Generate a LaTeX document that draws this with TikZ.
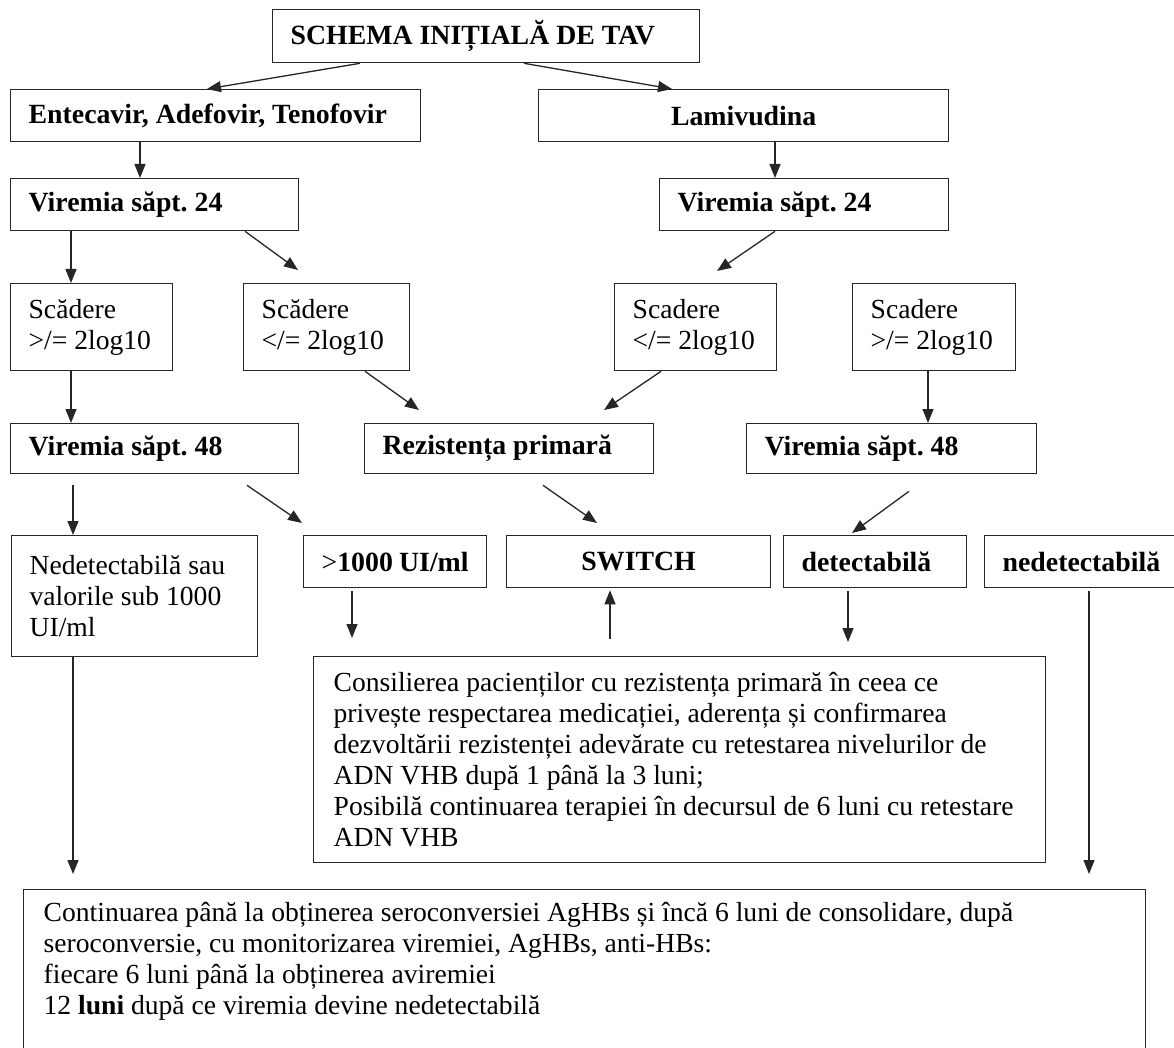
\documentclass[tikz,border=0pt]{standalone}
\usepackage{fontspec}
\setmainfont{Liberation Serif}
\usetikzlibrary{arrows.meta,calc}
\frenchspacing
\tikzset{
  box/.style={draw=black!85, line width=1.3pt, rectangle, inner xsep=18pt, inner ysep=0pt,
    anchor=north west, align=flush left, font=\fontsize{27.6}{31}\selectfont},
  bbox/.style={box, font=\fontsize{27.8}{31}\selectfont\bfseries},
  arr/.style={-{Triangle[length=14pt,width=11pt]}, line width=1.3pt, draw=black!85}
}
\begin{document}
\begin{tikzpicture}[x=1pt,y=-1pt]
\useasboundingbox (0,0) rectangle (1174,1048);
% row 0
\node[bbox, text width=391pt, minimum height=53pt] (top) at (272,9) {SCHEMA INIȚIALĂ DE TAV};
% row 1
\node[bbox, text width=374pt, minimum height=52pt] (ent) at (10,89) {Entecavir, Adefovir, Tenofovir};
\node[bbox, align=center, text width=374pt, minimum height=52pt] (lam) at (538,89) {Lamivudina};
% row 2
\node[bbox, text width=252pt, minimum height=52pt] (v24l) at (10,178) {Viremia săpt. 24};
\node[bbox, text width=253pt, minimum height=52pt] (v24r) at (659,178) {Viremia săpt. 24};
% row 3
\node[box, text width=126pt, minimum height=87pt] (sc1) at (10,283) {Scădere\\>/= 2log10};
\node[box, text width=130pt, minimum height=87pt] (sc2) at (243,283) {Scădere\\</= 2log10};
\node[box, text width=126pt, minimum height=87pt] (sc3) at (614,283) {Scadere\\</= 2log10};
\node[box, text width=127pt, minimum height=87pt] (sc4) at (852,283) {Scadere\\>/= 2log10};
% row 4
\node[bbox, text width=252pt, minimum height=50pt] (v48l) at (10,423) {Viremia săpt. 48};
\node[bbox, text width=253pt, minimum height=50pt] (rez) at (364,423) {Rezistența primară};
\node[bbox, text width=254pt, minimum height=50pt] (v48r) at (746,423) {Viremia săpt. 48};
% row 5
\node[box, text width=210pt, minimum height=121pt] (ned) at (11,535) {Nedetectabilă sau\\valorile sub 1000\\UI/ml};
\node[bbox, text width=147pt, minimum height=52pt] (gt) at (303,535) {{\mdseries >}1000 UI/ml};
\node[bbox, align=center, text width=228pt, minimum height=52pt] (sw) at (506,535) {SWITCH};
\node[bbox, text width=147pt, minimum height=52pt] (det) at (783,535) {detectabilă};
\node[bbox, text width=160pt, minimum height=52pt] (nedet) at (984,535) {nedetectabilă};
% row 6
\node[box, inner xsep=20pt, text width=692pt, minimum height=206pt] (consil) at (313,656) {Consilierea pacienților cu rezistența primară în ceea ce\\
privește respectarea medicației, aderența și confirmarea\\
dezvoltării rezistenței adevărate cu retestarea nivelurilor de\\
ADN VHB după 1 până la 3 luni;\\
Posibilă continuarea terapiei în decursul de 6 luni cu retestare\\
ADN VHB};
% row 7
\node[box, inner xsep=20pt, inner ysep=13pt] (bot) at (23,889) {\parbox[t][160pt][t]{1082pt}{\raggedright
Continuarea până la obținerea seroconversiei AgHBs și încă 6 luni de consolidare, după\\
seroconversie, cu monitorizarea viremiei, AgHBs, anti-HBs:\\
fiecare 6 luni până la obținerea aviremiei\\
12 \textbf{luni} după ce viremia devine nedetectabilă}};
% connectors
\draw[arr] (top.south -| 360,0) -- (ent.north -| 207,0);
\draw[arr] (top.south -| 524,0) -- (lam.north -| 672,0);
\draw[arr] (ent.south -| 140,0) -- (v24l.north -| 140,0);
\draw[arr] (lam.south -| 775,0) -- (v24r.north -| 775,0);
\draw[arr] (v24l.south -| 71,0) -- (sc1.north -| 71,0);
\draw[arr] (v24l.south -| 245,0) -- ($(sc2.north -| 298,0)+(0,-13)$);
\draw[arr] (v24r.south -| 775,0) -- ($(sc3.north -| 717,0)+(0,-12)$);
\draw[arr] (sc1.south -| 71,0) -- (v48l.north -| 71,0);
\draw[arr] (sc2.south -| 365,0) -- ($(rez.north -| 419,0)+(0,-13)$);
\draw[arr] (sc3.south -| 661,0) -- ($(rez.north -| 604,0)+(0,-13)$);
\draw[arr] (sc4.south -| 928,0) -- (v48r.north -| 928,0);
\draw[arr] ($(v48l.south -| 73,0)+(0,11)$) -- (ned.north -| 73,0);
\draw[arr] ($(v48l.south -| 247,0)+(0,11)$) -- ($(gt.north -| 302,0)+(0,-12)$);
\draw[arr] ($(rez.south -| 543,0)+(0,11)$) -- ($(sw.north -| 597,0)+(0,-12)$);
\draw[arr] ($(v48r.south -| 909,0)+(0,17)$) -- ($(det.north -| 852,0)+(0,-2)$);
\draw[arr] ($(gt.south -| 352,0)+(0,3)$) -- ($(consil.north -| 352,0)+(0,-18)$);
\draw[arr] ($(consil.north -| 610,0)+(0,-17)$) -- ($(sw.south -| 610,0)+(0,2)$);
\draw[arr] ($(det.south -| 848,0)+(0,3)$) -- ($(consil.north -| 848,0)+(0,-14)$);
\draw[arr] (ned.south -| 73,0) -- ($(bot.north -| 73,0)+(0,-15)$);
\draw[arr] ($(nedet.south -| 1089,0)+(0,3)$) -- ($(bot.north -| 1089,0)+(0,-15)$);
\end{tikzpicture}
\end{document}
